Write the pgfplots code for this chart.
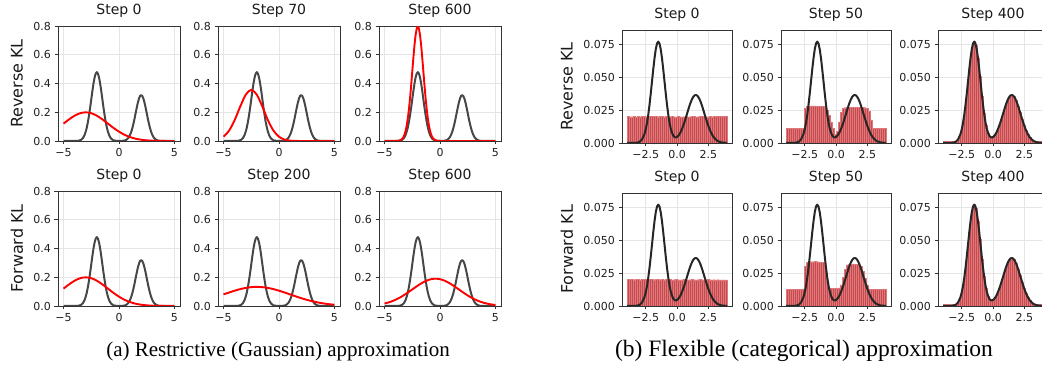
\documentclass[border=0pt]{standalone}
\usepackage{fontspec}
\setmainfont{DejaVu Sans}
\newfontfamily\capfont{Liberation Serif}
\usepackage{pgfplots}
\usepackage{pgfplotstable}
\pgfplotsset{compat=1.18}
\definecolor{barfill}{RGB}{198,74,78}
\definecolor{baredge}{RGB}{222,120,122}

\pgfplotstableread{
x y
-5 0
-4.5 0
-4 0.0002
-3.8 0.0007
-3.6 0.0029
-3.5 0.0053
-3.4 0.0095
-3.3 0.016
-3.2 0.027
-3.1 0.043
-3.0 0.065
-2.9 0.095
-2.8 0.133
-2.7 0.180
-2.6 0.233
-2.5 0.290
-2.4 0.348
-2.3 0.400
-2.2 0.442
-2.1 0.469
-2.0 0.479
-1.9 0.469
-1.8 0.442
-1.7 0.400
-1.6 0.348
-1.5 0.290
-1.4 0.233
-1.3 0.180
-1.2 0.133
-1.1 0.095
-1.0 0.065
-0.9 0.043
-0.8 0.027
-0.7 0.016
-0.6 0.0095
-0.5 0.0053
-0.4 0.0029
-0.2 0.0007
0 0.0003
0.2 0.0005
0.4 0.0019
0.5 0.0035
0.6 0.0063
0.7 0.011
0.8 0.018
0.9 0.028
1.0 0.043
1.1 0.063
1.2 0.089
1.3 0.120
1.4 0.155
1.5 0.194
1.6 0.232
1.7 0.267
1.8 0.295
1.9 0.313
2.0 0.319
2.1 0.313
2.2 0.295
2.3 0.267
2.4 0.232
2.5 0.194
2.6 0.155
2.7 0.120
2.8 0.089
2.9 0.063
3.0 0.043
3.1 0.028
3.2 0.018
3.3 0.011
3.4 0.0063
3.5 0.0035
3.6 0.0019
3.8 0.0005
4.0 0.0001
4.5 0
5 0
}\target

\pgfplotstableread{
x y
-5 0.121
-4.5 0.1506
-4 0.176
-3.5 0.1934
-3 0.1995
-2.5 0.1934
-2 0.176
-1.5 0.1506
-1 0.121
-0.5 0.0913
0 0.0648
0.5 0.0432
1 0.0270
1.5 0.0159
2 0.0088
2.5 0.0046
3 0.0022
3.5 0.0010
4 0.0004
4.5 0.0002
5 0.0001
}\qzero

\pgfplotstableread{
x y
-5 0.0295
-4.5 0.0723
-4 0.145
-3.5 0.239
-3 0.322
-2.5 0.356
-2 0.322
-1.5 0.239
-1 0.145
-0.5 0.0723
0 0.0295
0.5 0.0099
1 0.0027
1.5 0.0006
2 0.0001
2.5 0
3 0
4 0
5 0
}\qseventy

\pgfplotstableread{
x y
-5 0
-4.5 0
-4 0.0003
-3.8 0.0012
-3.6 0.0048
-3.5 0.0089
-3.4 0.016
-3.3 0.027
-3.2 0.045
-3.1 0.071
-3.0 0.108
-2.9 0.158
-2.8 0.222
-2.7 0.299
-2.6 0.388
-2.5 0.484
-2.4 0.579
-2.3 0.667
-2.2 0.737
-2.1 0.782
-2.0 0.798
-1.9 0.782
-1.8 0.737
-1.7 0.667
-1.6 0.579
-1.5 0.484
-1.4 0.388
-1.3 0.299
-1.2 0.222
-1.1 0.158
-1.0 0.108
-0.9 0.071
-0.8 0.045
-0.7 0.027
-0.6 0.016
-0.5 0.0089
-0.4 0.0048
-0.2 0.0012
0 0.0003
0.5 0
5 0
}\qrsix

\pgfplotstableread{
x y
-5 0.0807
-4.5 0.094
-4 0.1065
-3.5 0.1174
-3 0.1258
-2.5 0.1312
-2 0.133
-1.5 0.1312
-1 0.1258
-0.5 0.1174
0 0.1065
0.5 0.094
1 0.0807
1.5 0.0673
2 0.0547
2.5 0.0432
3 0.0332
3.5 0.0248
4 0.018
4.5 0.0127
5 0.0087
}\qtwohundred

\pgfplotstableread{
x y
-5 0.0173
-4.5 0.0283
-4 0.0437
-3.5 0.0639
-3 0.0883
-2.5 0.1152
-2 0.1421
-1.5 0.1657
-1 0.1824
-0.5 0.1898
0 0.1866
0.5 0.1733
1 0.1521
1.5 0.1262
2 0.0989
2.5 0.0732
3 0.0512
3.5 0.0338
4 0.0212
4.5 0.0125
5 0.0070
}\qfsix

\pgfplotstableread{
x y
-4.0 0
-3.5 0.00003
-3.2 0.00024
-3.0 0.00085
-2.8 0.00262
-2.6 0.00685
-2.5 0.0104
-2.4 0.0152
-2.3 0.0214
-2.2 0.0289
-2.1 0.0375
-2.0 0.0467
-1.9 0.0559
-1.8 0.0643
-1.7 0.0711
-1.6 0.0755
-1.5 0.0770
-1.4 0.0755
-1.3 0.0711
-1.2 0.0643
-1.1 0.0559
-1.0 0.0468
-0.9 0.0376
-0.8 0.0291
-0.7 0.0217
-0.6 0.0156
-0.5 0.0110
-0.4 0.0078
-0.3 0.0056
-0.2 0.0045
-0.1 0.0042
0.0 0.0046
0.1 0.0054
0.2 0.0067
0.3 0.0085
0.4 0.0107
0.5 0.0132
0.6 0.0160
0.7 0.0190
0.8 0.0221
0.9 0.0253
1.0 0.0283
1.1 0.0310
1.2 0.0333
1.3 0.0350
1.4 0.0361
1.5 0.0365
1.6 0.0361
1.7 0.0350
1.8 0.0333
1.9 0.0310
2.0 0.0283
2.1 0.0253
2.2 0.0221
2.3 0.0190
2.4 0.0160
2.5 0.0132
2.6 0.0106
2.7 0.0084
2.8 0.0065
2.9 0.0049
3.0 0.0037
3.1 0.0027
3.2 0.0019
3.3 0.0013
3.5 0.0006
3.7 0.00026
4.0 0.00006
}\ptarget

\pgfplotstableread{
c r0 r50 s400 f0 f50
-3.92 0.0201 0.0110 0.0012 0.0202 0.0128
-3.76 0.0199 0.0110 0.0012 0.0201 0.0128
-3.60 0.0200 0.0109 0.0012 0.0202 0.0129
-3.44 0.0202 0.0110 0.0012 0.0200 0.0128
-3.28 0.0199 0.0110 0.0012 0.0201 0.0129
-3.12 0.0201 0.0111 0.0013 0.0202 0.0128
-2.96 0.0200 0.0110 0.0015 0.0200 0.0129
-2.80 0.0203 0.0110 0.0028 0.0201 0.0128
-2.64 0.0202 0.0111 0.0057 0.0202 0.0130
-2.48 0.0200 0.0262 0.0113 0.0201 0.0300
-2.32 0.0204 0.0278 0.0201 0.0200 0.0333
-2.16 0.0203 0.0280 0.0322 0.0202 0.0335
-2.00 0.0201 0.0282 0.0467 0.0201 0.0336
-1.84 0.0202 0.0281 0.0611 0.0200 0.0336
-1.68 0.0203 0.0282 0.0722 0.0201 0.0337
-1.52 0.0200 0.0280 0.0770 0.0202 0.0336
-1.36 0.0201 0.0279 0.0740 0.0200 0.0335
-1.20 0.0202 0.0280 0.0643 0.0201 0.0334
-1.04 0.0200 0.0277 0.0504 0.0200 0.0330
-0.88 0.0201 0.0272 0.0357 0.0201 0.0300
-0.72 0.0199 0.0250 0.0230 0.0200 0.0180
-0.56 0.0200 0.0210 0.0136 0.0201 0.0135
-0.40 0.0201 0.0160 0.0078 0.0199 0.0134
-0.24 0.0200 0.0110 0.0049 0.0200 0.0135
-0.08 0.0199 0.0065 0.0042 0.0201 0.0135
0.08 0.0201 0.0090 0.0052 0.0200 0.0136
0.24 0.0200 0.0160 0.0074 0.0199 0.0137
0.40 0.0199 0.0235 0.0107 0.0200 0.0160
0.56 0.0200 0.0265 0.0148 0.0201 0.0220
0.72 0.0201 0.0268 0.0196 0.0200 0.0280
0.88 0.0199 0.0270 0.0247 0.0199 0.0312
1.04 0.0200 0.0270 0.0294 0.0200 0.0316
1.20 0.0202 0.0271 0.0333 0.0201 0.0318
1.36 0.0201 0.0272 0.0358 0.0200 0.0319
1.52 0.0199 0.0271 0.0365 0.0199 0.0318
1.68 0.0200 0.0270 0.0353 0.0200 0.0316
1.84 0.0201 0.0270 0.0324 0.0201 0.0312
2.00 0.0203 0.0271 0.0283 0.0200 0.0300
2.16 0.0202 0.0270 0.0234 0.0199 0.0265
2.32 0.0200 0.0268 0.0184 0.0200 0.0210
2.48 0.0199 0.0262 0.0137 0.0201 0.0160
2.64 0.0201 0.0240 0.0097 0.0200 0.0130
2.80 0.0200 0.0175 0.0065 0.0199 0.0129
2.96 0.0202 0.0112 0.0041 0.0200 0.0128
3.12 0.0203 0.0110 0.0025 0.0199 0.0129
3.28 0.0201 0.0111 0.0014 0.0200 0.0128
3.44 0.0202 0.0110 0.0012 0.0199 0.0129
3.60 0.0204 0.0110 0.0012 0.0198 0.0128
3.76 0.0203 0.0111 0.0012 0.0199 0.0129
3.92 0.0202 0.0110 0.0012 0.0198 0.0128
}\bars

\pgfplotsset{
  base/.style={
    scale only axis, anchor=south west,
    tick align=outside, xtick pos=left, ytick pos=left,
    major tick length=3.5pt,
    tick style={black!80, line width=0.8pt},
    axis line style={black!80, line width=0.8pt},
    grid=major, major grid style={black!10, line width=0.6pt},
    tick label style={font=\fontsize{11}{12}\selectfont, text=black!88},
    title style={font=\fontsize{14}{16}\selectfont, text=black!90, at={(0.5,1)}, anchor=south, yshift=-0.5pt},
    ylabel style={font=\fontsize{16}{18}\selectfont, text=black!90, anchor=center},
    scaled y ticks=false, scaled x ticks=false,
  },
  lstyle/.style={base, width=122pt, height=115pt,
    xmin=-5.5, xmax=5.5, ymin=0, ymax=0.8,
    xtick={-5,0,5}, xticklabels={−5,0,5},
    ytick={0,0.2,0.4,0.6,0.8}, yticklabels={0.0,0.2,0.4,0.6,0.8},
    ylabel style={at={(axis description cs:-0.336,0.5)}},
  },
  rstyle/.style={base, width=110pt, height=113pt,
    xmin=-4.4, xmax=4.4, ymin=0, ymax=0.0858,
    xtick={-2.5,0,2.5}, xticklabels={−2.5,0.0,2.5},
    ytick={0,0.025,0.05,0.075}, yticklabels={0.000,0.025,0.050,0.075},
    ylabel style={at={(axis description cs:-0.5,0.5)}},
  },
  tgtline/.style={black!72, line width=2pt, line join=round},
  qline/.style={red, line width=1.9pt, line join=round},
  ptgtline/.style={black!85, line width=2pt, line join=round},
  hbar/.style={ybar, bar width=0.16, bar shift=0pt, fill=barfill, draw=baredge, line width=0.3pt},
}

\begin{document}
\begin{tikzpicture}
% ---------- (a) Gaussian ----------
\begin{axis}[lstyle, at={(58pt,234pt)}, title={Step 0}, ylabel={Reverse KL}]
\addplot[tgtline] table[x=x,y=y]{\target};
\addplot[qline, smooth] table[x=x,y=y]{\qzero};
\end{axis}
\begin{axis}[lstyle, at={(218pt,234pt)}, title={Step 70}]
\addplot[tgtline] table[x=x,y=y]{\target};
\addplot[qline, smooth] table[x=x,y=y]{\qseventy};
\end{axis}
\begin{axis}[lstyle, at={(379pt,234pt)}, title={Step 600}]
\addplot[tgtline] table[x=x,y=y]{\target};
\addplot[qline] table[x=x,y=y]{\qrsix};
\end{axis}
\begin{axis}[lstyle, at={(58pt,69pt)}, title={Step 0}, ylabel={Forward KL}]
\addplot[tgtline] table[x=x,y=y]{\target};
\addplot[qline, smooth] table[x=x,y=y]{\qzero};
\end{axis}
\begin{axis}[lstyle, at={(218pt,69pt)}, title={Step 200}]
\addplot[tgtline] table[x=x,y=y]{\target};
\addplot[qline, smooth] table[x=x,y=y]{\qtwohundred};
\end{axis}
\begin{axis}[lstyle, at={(379pt,69pt)}, title={Step 600}]
\addplot[tgtline] table[x=x,y=y]{\target};
\addplot[qline, smooth] table[x=x,y=y]{\qfsix};
\end{axis}
% ---------- (b) categorical ----------
\begin{axis}[rstyle, at={(622pt,232pt)}, title={Step 0}, ylabel={Reverse KL}]
\addplot[hbar] table[x=c,y=r0]{\bars};
\addplot[ptgtline] table[x=x,y=y]{\ptarget};
\end{axis}
\begin{axis}[rstyle, at={(781pt,232pt)}, title={Step 50}]
\addplot[hbar] table[x=c,y=r50]{\bars};
\addplot[ptgtline] table[x=x,y=y]{\ptarget};
\end{axis}
\begin{axis}[rstyle, at={(938pt,232pt)}, title={Step 400}]
\addplot[hbar] table[x=c,y=s400]{\bars};
\addplot[ptgtline] table[x=x,y=y]{\ptarget};
\end{axis}
\begin{axis}[rstyle, at={(622pt,69pt)}, title={Step 0}, ylabel={Forward KL}]
\addplot[hbar] table[x=c,y=f0]{\bars};
\addplot[ptgtline] table[x=x,y=y]{\ptarget};
\end{axis}
\begin{axis}[rstyle, at={(781pt,69pt)}, title={Step 50}]
\addplot[hbar] table[x=c,y=f50]{\bars};
\addplot[ptgtline] table[x=x,y=y]{\ptarget};
\end{axis}
\begin{axis}[rstyle, at={(938pt,69pt)}, title={Step 400}]
\addplot[hbar] table[x=c,y=s400]{\bars};
\addplot[ptgtline] table[x=x,y=y]{\ptarget};
\end{axis}
% ---------- captions ----------
\node[font=\fontsize{21}{24}\selectfont\capfont] at (278pt,24pt) {(a) Restrictive (Gaussian) approximation};
\node[font=\fontsize{23.5}{26}\selectfont\capfont] at (804pt,24pt) {(b) Flexible (categorical) approximation};
\pgfresetboundingbox
\useasboundingbox (0,0) rectangle (1042pt,375pt);
\end{tikzpicture}
\end{document}
